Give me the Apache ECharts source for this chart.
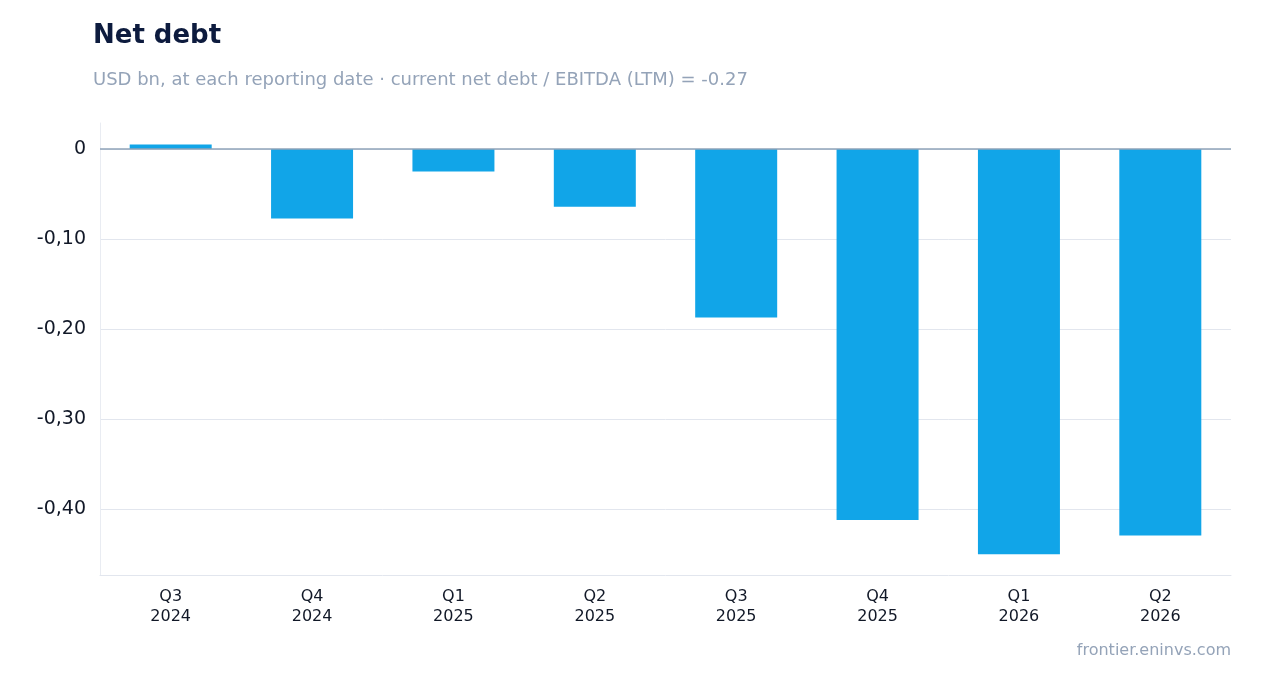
<!DOCTYPE html>
<html style="height: 100%">
<head>
    <meta charset="utf-8">
</head>
<body style="height: 100%; margin: 0; background: #fff">
<div id="container" style="height: 100%"></div>
<script type="text/javascript" src="https://cdn.jsdelivr.net/npm/echarts@6/dist/echarts.min.js"></script>
<script type="text/javascript">
    var quarters = ['Q3\n2024', 'Q4\n2024', 'Q1\n2025', 'Q2\n2025', 'Q3\n2025', 'Q4\n2025', 'Q1\n2026', 'Q2\n2026'];
    var netDebt = [0.005, -0.077, -0.025, -0.064, -0.187, -0.412, -0.450, -0.429];
    var yTicks = [0, -0.1, -0.2, -0.3, -0.4];

    var myChart = echarts.init(document.getElementById('container'));
    var font = 'DejaVu Sans';

    var option = {
        backgroundColor: '#fff',
        textStyle: { fontFamily: font },
        title: [{
            text: 'Net debt',
            subtext: 'USD bn, at each reporting date · current net debt / EBITDA (LTM) = -0.27',
            left: 88, top: 18,
            itemGap: 22,
            textStyle: { fontSize: 26, fontWeight: 'bold', color: '#0d1b3e', fontFamily: font },
            subtextStyle: { fontSize: 18, color: '#94a3b8', fontFamily: font }
        }],
        graphic: [{
            type: 'text', right: 31, top: 643,
            style: { text: 'frontier.eninvs.com', fontSize: 16, fill: '#94a3b8', fontFamily: font }
        }],
        grid: { left: 100, right: 31, top: 123, bottom: 118 },
        xAxis: {
            type: 'category',
            data: quarters,
            position: 'bottom',
            axisLine: { onZero: false, lineStyle: { color: '#e2e6ee' } },
            axisTick: { alignWithLabel: true, lineStyle: { color: '#1e293b' } },
            axisLabel: { color: '#111827', fontSize: 16, lineHeight: 20, margin: 12 }
        },
        yAxis: {
            type: 'value',
            min: -0.473, max: 0.029,
            axisLine: { show: true, lineStyle: { color: '#e9ecf2' } },
            axisTick: { show: false, customValues: yTicks },
            axisLabel: {
                customValues: yTicks,
                color: '#111827', fontSize: 19, margin: 14,
                formatter: function (v) {
                    return v === 0 ? '0' : v.toFixed(2).replace('.', ',');
                }
            },
            splitLine: { lineStyle: { color: '#e2e6ee' } }
        },
        series: [{
            type: 'bar',
            data: netDebt,
            barWidth: '58%',
            itemStyle: { color: '#11a5e8' },
            markLine: {
                silent: true, symbol: 'none', label: { show: false },
                lineStyle: { color: '#8fa3b8', type: 'solid', width: 1.5 },
                data: [{ yAxis: 0 }]
            }
        }]
    };
    myChart.setOption(option, true);
</script>
</body>
</html>
